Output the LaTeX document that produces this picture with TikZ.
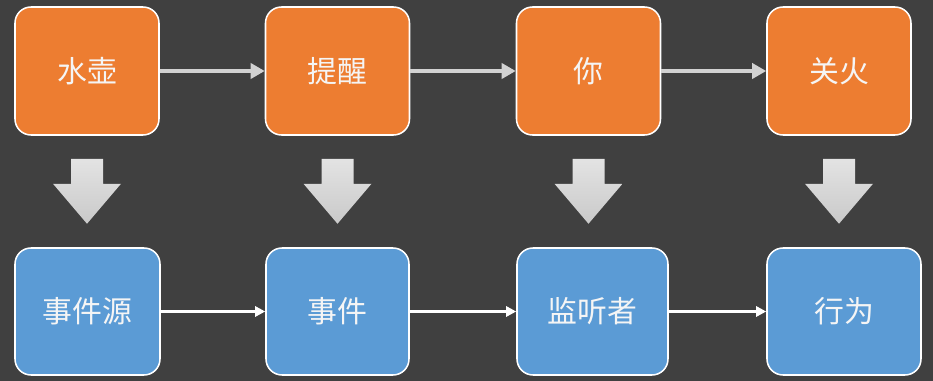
\documentclass[tikz,border=0pt]{standalone}
\usepackage{fontspec}
\setmainfont{Noto Sans CJK SC}
\usetikzlibrary{arrows.meta}
\definecolor{bgdark}{HTML}{404040}
\definecolor{boxorange}{HTML}{ED7D31}
\definecolor{boxblue}{HTML}{5B9BD5}
\definecolor{linkgray}{HTML}{D2D2D2}
\begin{document}
\begin{tikzpicture}[font=\fontsize{25.5}{30}\selectfont,
  box/.style={draw=white, line width=1.3pt, rounded corners=0.48cm, minimum width=4.32cm, minimum height=3.84cm, align=center, text=white!96!black},
  topbox/.style={box, fill=boxorange},
  lowbox/.style={box, fill=boxblue, minimum height=3.81cm},
  toplink/.style={-{Triangle[length=0.42cm,width=0.45cm]}, line width=4pt, linkgray},
  lowlink/.style={-{Triangle[length=0.3cm,width=0.3cm]}, line width=2.2pt, white}]
  \fill[bgdark] (0,0) rectangle (27.99,11.43);
  \useasboundingbox (0,0) rectangle (27.99,11.43);
  % top row
  \node[topbox] (kettle) at (2.61,9.30) {水壶};
  \node[topbox] (remind) at (10.125,9.30) {提醒};
  \node[topbox] (you) at (17.655,9.30) {你};
  \node[topbox] (off) at (25.17,9.30) {关火};
  % bottom row
  \node[lowbox, minimum width=4.35cm] (source) at (2.625,2.085) {事件源};
  \node[lowbox, minimum width=4.29cm] (event) at (10.125,2.085) {事件};
  \node[lowbox, minimum width=4.53cm] (listener) at (17.775,2.085) {监听者};
  \node[lowbox, minimum width=4.62cm] (action) at (25.32,2.085) {行为};
  \draw[toplink] (kettle) -- (remind);
  \draw[toplink] (remind) -- (you);
  \draw[toplink] (you) -- (off);
  \draw[lowlink] (source) -- (event);
  \draw[lowlink] (event) -- (listener);
  \draw[lowlink] (listener) -- (action);
  % block arrows between the rows
  \foreach \n in {kettle,remind,you,off} {
    \path (\n.south) ++(0,-0.69) coordinate (\n-down);
    \shade[top color=gray!22, bottom color=gray!42] (\n-down) ++(-0.48,0) -- ++(0.96,0) -- ++(0,-0.75) -- ++(0.54,0) -- ++(-1.02,-1.2) -- ++(-1.02,1.2) -- ++(0.54,0) -- cycle;
  }
\end{tikzpicture}
\end{document}
